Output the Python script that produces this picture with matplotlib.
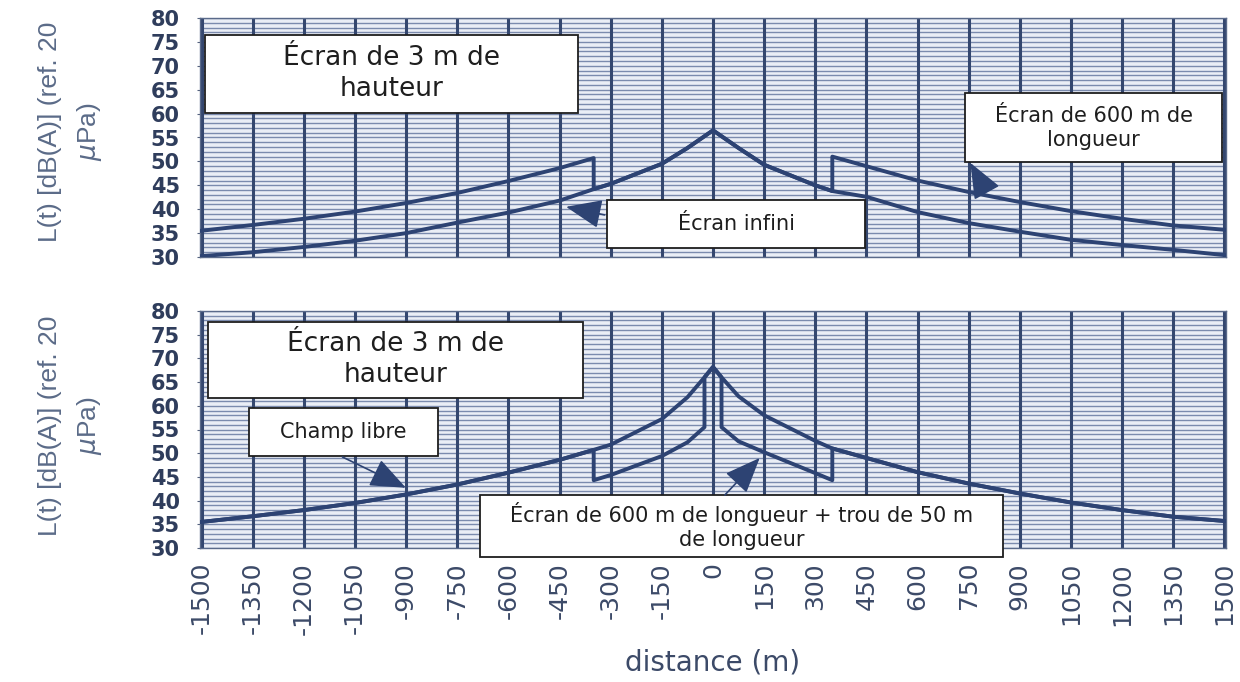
import numpy as np
import matplotlib.pyplot as plt
from matplotlib.patches import Rectangle

# free field (champ libre)
dist_ff = [-1500, -1350, -1200, -1050, -900, -750, -600, -450, -350, -300, -150, -75, -25, 0,
           25, 75, 150, 300, 350, 450, 600, 750, 900, 1050, 1200, 1350, 1500]
lvl_ff = [35.5, 36.7, 38.0, 39.5, 41.3, 43.4, 45.9, 48.6, 50.7, 51.8, 57.2, 61.8, 66.0, 68.2,
          66.0, 62.0, 58.0, 52.6, 51.0, 49.0, 46.0, 43.6, 41.5, 39.6, 38.0, 36.6, 35.7]

# infinite screen (écran infini)
dist_inf = [-1500, -1350, -1200, -1050, -900, -750, -600, -450, -350, -300, -150, -75, 0,
            75, 150, 300, 350, 450, 600, 750, 900, 1050, 1200, 1350, 1500]
lvl_inf = [30.2, 31.0, 32.1, 33.4, 35.0, 37.2, 39.3, 41.8, 44.2, 45.3, 49.5, 52.8, 56.5,
           52.8, 49.3, 45.0, 43.8, 42.6, 39.4, 37.1, 35.3, 33.6, 32.5, 31.5, 30.4]

# 600 m screen with a 50 m hole, inner part
dist_hole = [-350, -300, -150, -75, -25, 25, 75, 150, 300, 350]
lvl_hole = [44.3, 45.4, 49.4, 52.3, 55.5, 55.5, 52.5, 50.2, 45.8, 44.3]

screen_end = 350
hole_half = 25

x_ticks = list(range(-1500, 1501, 150))
y_ticks = list(range(30, 81, 5))
y_fine = list(range(30, 81, 1))


def piece(d, v, lo, hi):
    d = np.asarray(d, dtype=float)
    v = np.asarray(v, dtype=float)
    m = (d >= lo) & (d <= hi)
    return d[m], v[m]


def join(parts):
    return np.concatenate([p[0] for p in parts]), np.concatenate([p[1] for p in parts])


scr_d, scr_v = join([piece(dist_ff, lvl_ff, -2000, -screen_end),
                     piece(dist_inf, lvl_inf, -screen_end, screen_end),
                     piece(dist_ff, lvl_ff, screen_end, 2000)])
hole_d, hole_v = join([piece(dist_ff, lvl_ff, -2000, -screen_end),
                       piece(dist_hole, lvl_hole, -screen_end, -hole_half),
                       piece(dist_ff, lvl_ff, -hole_half, hole_half),
                       piece(dist_hole, lvl_hole, hole_half, screen_end),
                       piece(dist_ff, lvl_ff, screen_end, 2000)])

line_col = '#2d4373'
tick_col = '#2f3d5c'

fig = plt.figure(figsize=(12.4, 6.82), dpi=100)
W, H = 1240, 682
ax1 = fig.add_axes([200 / W, 1 - 257 / H, 1026 / W, 239 / H])
ax2 = fig.add_axes([200 / W, 1 - 548 / H, 1026 / W, 237 / H])


def style(ax):
    ax.set_xlim(-1505, 1505)
    ax.set_ylim(30, 80)
    ax.set_facecolor('#eaeef6')
    ax.set_xticks(x_ticks)
    ax.set_yticks(y_ticks)
    for v in y_fine:
        ax.axhline(v, color='#7b8bae', lw=1.0, zorder=1)
    for d in x_ticks:
        ax.axvline(d, color='#34476f', lw=2.2, zorder=2)
    ax.set_yticklabels([str(t) for t in y_ticks], fontsize=15, fontweight='bold', color=tick_col)
    ax.tick_params(axis='y', which='major', length=5, direction='inout', color='#55627e', pad=12)
    ax.tick_params(axis='x', length=0)
    for s in ax.spines.values():
        s.set_color('#5a6a8a')
        s.set_linewidth(1.0)


def add_box(ax, x0, y0, x1, y1, text, size):
    ax.add_patch(Rectangle((x0, y0), x1 - x0, y1 - y0, transform=ax.transAxes,
                           fc='white', ec='#1e1e1e', lw=1.3, zorder=5, clip_on=False))
    ax.text((x0 + x1) / 2, (y0 + y1) / 2, text, transform=ax.transAxes, ha='center',
            va='center', fontsize=size, color='#1e1e1e', zorder=6, linespacing=1.25)


def arrow(ax, tail, head):
    ax.annotate('', xy=head, xytext=tail, zorder=7, annotation_clip=False,
                arrowprops=dict(arrowstyle='-|>,head_length=1.6,head_width=0.65',
                                mutation_scale=14, color=line_col, lw=1.2,
                                shrinkA=0, shrinkB=0))


style(ax1)
style(ax2)

# top panel
ax1.plot(dist_inf, lvl_inf, color=line_col, lw=2.8, zorder=3)
ax1.plot(scr_d, scr_v, color=line_col, lw=2.8, zorder=3)
ax1.tick_params(axis='x', labelbottom=False)
add_box(ax1, 0.005, 0.603, 0.368, 0.929, 'Écran de 3 m de\nhauteur', 19)
add_box(ax1, 0.397, 0.038, 0.648, 0.238, 'Écran infini', 15)
add_box(ax1, 0.746, 0.397, 0.996, 0.686, 'Écran de 600 m de\nlongueur', 15)
arrow(ax1, (-318, 38.8), (-431, 40.5))
arrow(ax1, (799, 44.0), (755, 49.7))

# bottom panel
ax2.plot(dist_ff, lvl_ff, color=line_col, lw=2.8, zorder=3)
ax2.plot(hole_d, hole_v, color=line_col, lw=2.8, zorder=3)
ax2.set_xticklabels([str(t) for t in x_ticks], rotation=90, fontsize=18, color='#3c4a68')
ax2.tick_params(axis='x', pad=10)
add_box(ax2, 0.008, 0.633, 0.373, 0.954, 'Écran de 3 m de\nhauteur', 19)
add_box(ax2, 0.048, 0.388, 0.232, 0.591, 'Champ libre', 15)
add_box(ax2, 0.273, -0.038, 0.783, 0.224,
        'Écran de 600 m de longueur + trou de 50 m\nde longueur', 15)
arrow(ax2, (-1087, 49.2), (-901, 42.7))
arrow(ax2, (35, 41.2), (137, 49.0))

ylab = 'L(t) [dB(A)] (ref. 20\n$\\mu$Pa)'
for yc in (1 - 132 / H, 1 - 426 / H):
    fig.text(71 / W, yc, ylab, rotation=90, ha='center', va='center', ma='center',
             fontsize=19, color='#5b6b88', family='Liberation Sans', linespacing=1.6)

fig.text(713 / W, 1 - 662 / H, 'distance (m)', ha='center', va='center', fontsize=20,
         color='#3c4a68')

fig.savefig('out.png', dpi=100)
